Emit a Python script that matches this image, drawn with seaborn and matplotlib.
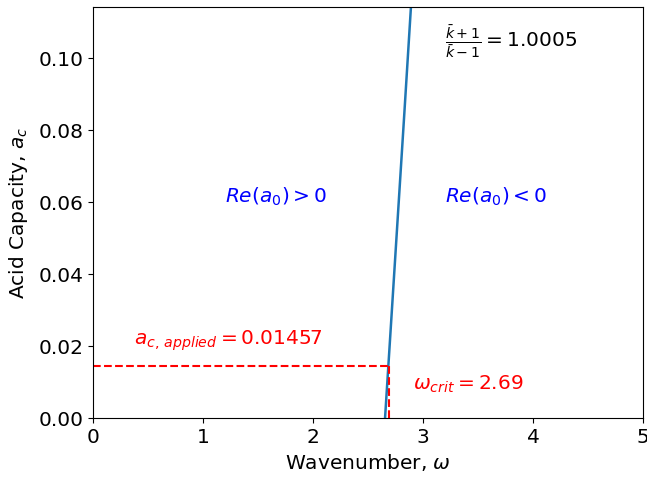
import matplotlib
matplotlib.use("Agg")
import matplotlib.pyplot as plt
import seaborn as sns
import pandas as pd

# Neutral stability boundary: wavenumber vs acid capacity
omega_boundary = [2.655, 2.71, 2.77, 2.83, 2.89]
ac_boundary = [0.0, 0.0265, 0.0555, 0.0845, 0.114]

ac_applied = 0.01457
omega_crit = 2.69
ratio_label = 1.0005

x_ticks = [0, 1, 2, 3, 4, 5]
y_ticks = [0.00, 0.02, 0.04, 0.06, 0.08, 0.10]

df = pd.DataFrame({"omega": omega_boundary, "ac": ac_boundary})

fig = plt.figure(figsize=(6.47, 4.79), dpi=100)
ax = fig.add_axes([93 / 647, 61 / 479, 550 / 647, 411 / 479])

sns.lineplot(data=df, x="omega", y="ac", ax=ax, color="#1f77b4", linewidth=1.8,
             sort=False, estimator=None)

# applied acid capacity and the corresponding critical wavenumber
ax.plot([0, omega_crit], [ac_applied, ac_applied], color="red", linestyle="--", linewidth=1.5)
ax.plot([omega_crit, omega_crit], [0, ac_applied], color="red", linestyle="--", linewidth=1.5)

fs = 14.5
ax.text(0.37, 0.0203, r"$a_{c,\,applied} = %s$" % f"{ac_applied:.5f}", color="red", fontsize=fs)
ax.text(2.91, 0.0078, r"$\omega_{crit} = %s$" % f"{omega_crit:.2f}", color="red", fontsize=fs)
ax.text(1.2, 0.0598, r"$Re(a_0) > 0$", color="blue", fontsize=fs)
ax.text(3.2, 0.0598, r"$Re(a_0) < 0$", color="blue", fontsize=fs)
ax.text(3.2, 0.1030, r"$\frac{\bar{k}+1}{\bar{k}-1} = %s$" % f"{ratio_label:.4f}",
        color="black", fontsize=fs)

ax.set_xlim(0, 5)
ax.set_ylim(0, 0.1142)
ax.set_xticks(x_ticks)
ax.set_yticks(y_ticks)
ax.tick_params(labelsize=fs)
ax.set_xlabel(r"Wavenumber, $\omega$", fontsize=fs)
ax.set_ylabel(r"Acid Capacity, $a_c$", fontsize=fs, labelpad=6)

fig.savefig("out.png", dpi=100)
